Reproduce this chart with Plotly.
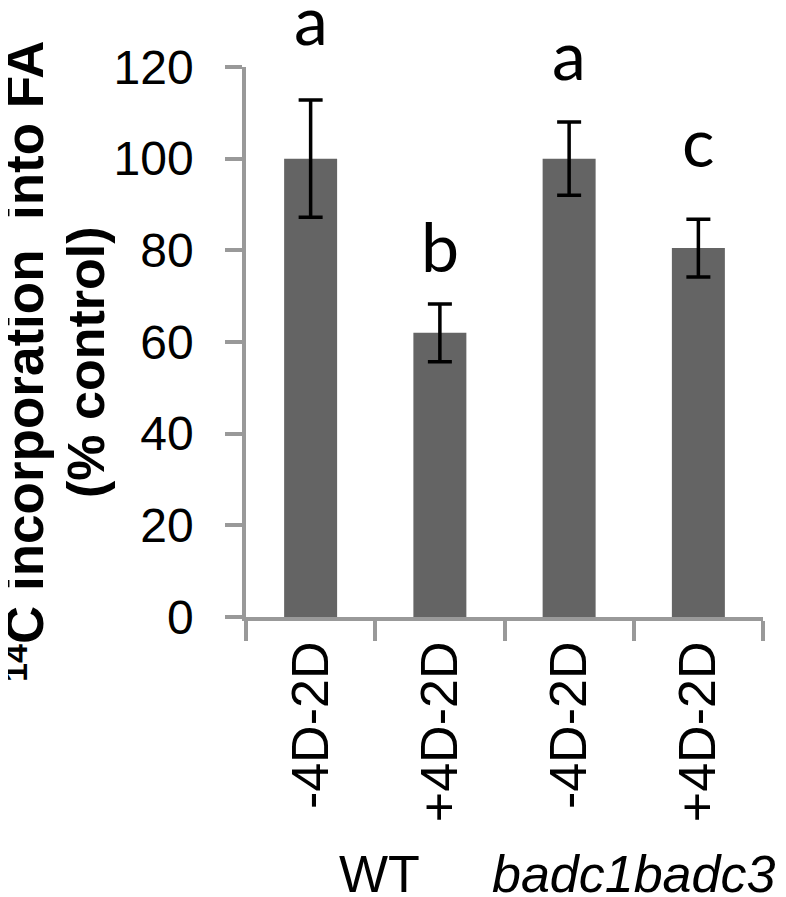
import plotly.graph_objects as go

categories = ["-4D-2D", "+4D-2D", "-4D-2D ", "+4D-2D "]
tick_text = ["-4D-2D", "+4D-2D", "-4D-2D", "+4D-2D"]
values = [100, 62, 100, 80.5]
errors = [12.8, 6.3, 8.0, 6.3]
letters = ["a", "b", "a", "c"]
letter_y = [130.5, 81, 123, 104]
groups = ["WT", "<i>badc1badc3</i>"]
group_x = [0.5, 2.5]
y_ticks = [0, 20, 40, 60, 80, 100, 120]
y_max = 120

# the page body has an 8px margin; the figure is sized to fill the window
OFF = 8
W, H = 786 - OFF, 897 - OFF
L, T = 246 - OFF, 67 - OFF
R = W - (763 - OFF)
B = H - (617 - OFF)
PW, PH = W - L - R, H - T - B

def px_x(p):
    return (p - OFF - L) / PW

def px_y(p):
    return (H - B - (p - OFF)) / PH

fig = go.Figure()
fig.add_trace(go.Bar(
    x=categories, y=values, width=0.41,
    marker=dict(color="#646464", line=dict(width=0)),
    error_y=dict(type="data", array=errors, visible=True,
                 color="black", thickness=3.5, width=12),
    showlegend=False,
))

for c, t, yv in zip(categories, letters, letter_y):
    fig.add_annotation(x=c, y=yv / y_max, xref="x", yref="paper", text=t, showarrow=False,
                       font=dict(family="Lato", size=68, color="black"),
                       yanchor="middle", xanchor="center")

for gx, g, xs in zip(group_x, groups, [4, 0]):
    fig.add_annotation(x=gx, y=-0.468, xref="x", yref="paper", text=g, showarrow=False,
                       font=dict(family="Liberation Sans", size=52, color="black"),
                       yanchor="middle", xanchor="center", xshift=xs)

# y-axis title: two rotated lines, with the "14" superscript as its own small text
title_parts = ["<b>C incorporation&nbsp; into FA</b>", "<b>14</b>", "<b>(% control)</b>"]
title_pos = [(24, 342), (15, 663), (86, 362)]
title_size = [53, 34, 52]
for txt, (px, py), sz in zip(title_parts, title_pos, title_size):
    fig.add_annotation(
        x=px_x(px), y=px_y(py), xref="paper", yref="paper",
        text=txt, textangle=-90, showarrow=False,
        font=dict(family="Liberation Sans", size=sz, color="black"),
        xanchor="center", yanchor="middle",
    )

fig.update_layout(
    width=W, height=H,
    margin=dict(l=L, r=R, t=T, b=B, pad=0, autoexpand=False),
    plot_bgcolor="white", paper_bgcolor="white",
    bargap=0.59,
)
fig.update_xaxes(
    type="category", tickvals=categories, ticktext=tick_text,
    tickangle=-90, ticks="outside", tickson="boundaries", ticklen=20,
    tickwidth=3.5, tickcolor="#999999",
    showline=True, linecolor="#999999", linewidth=3.5,
    tickfont=dict(family="Liberation Sans", size=52, color="black"),
    showgrid=False, range=[-0.5, 3.5], automargin=False,
)
fig.update_yaxes(
    range=[0, y_max], tickvals=y_ticks, ticks="outside", ticklen=17,
    tickwidth=3.5, tickcolor="#999999",
    showline=True, linecolor="#999999", linewidth=3.5,
    tickfont=dict(family="Liberation Sans", size=48, color="black"),
    showgrid=False, zeroline=False, ticklabelstandoff=22, automargin=False,
)

fig.write_html("out.html")
